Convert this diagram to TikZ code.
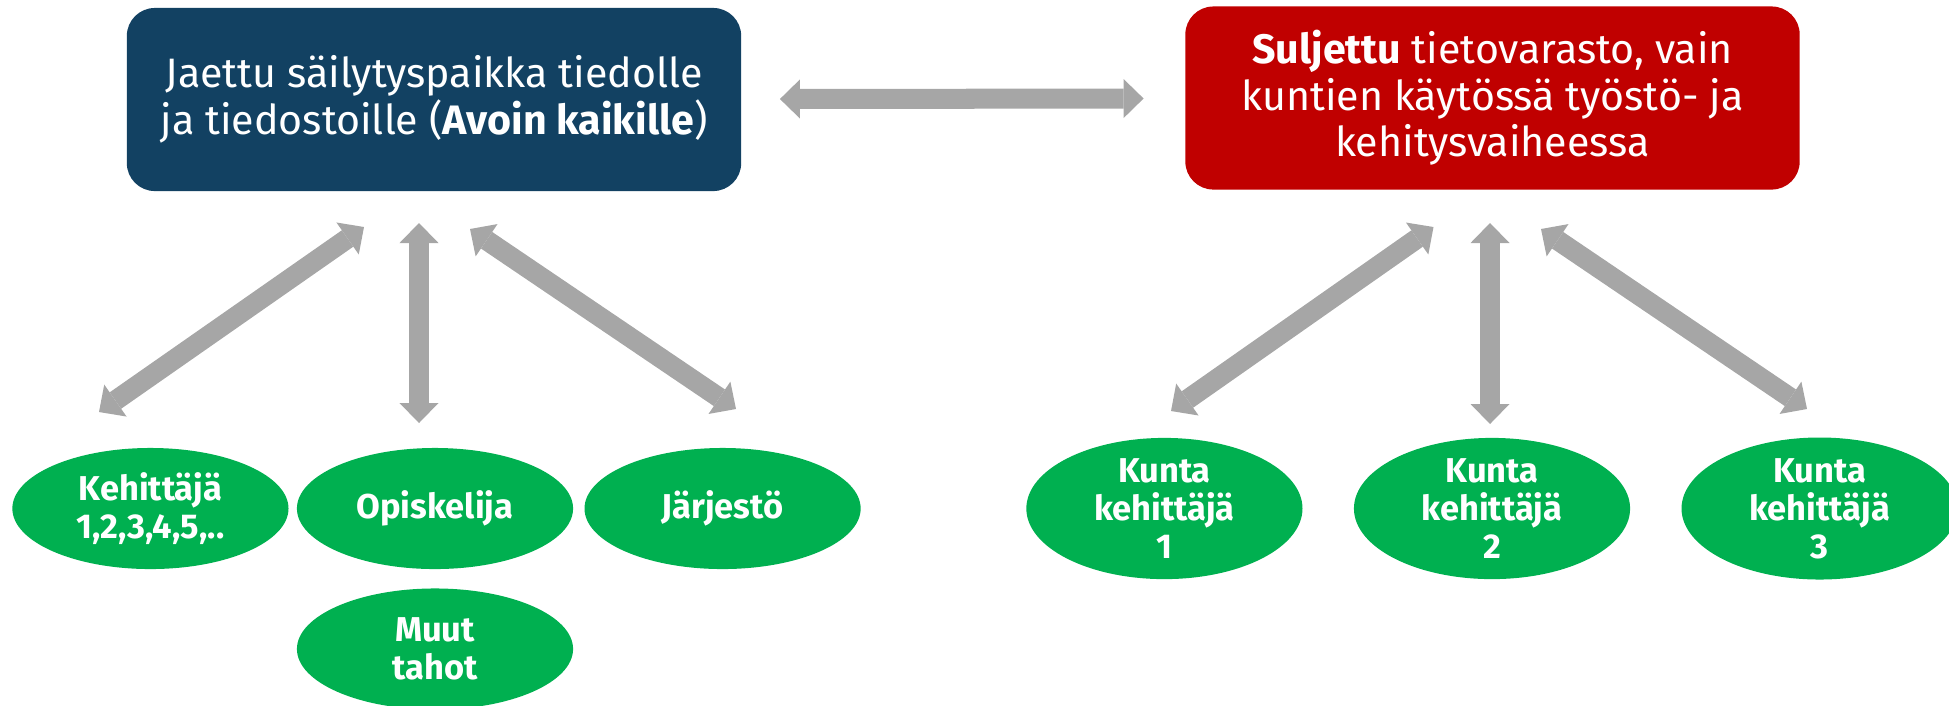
\documentclass[tikz,border=0pt]{standalone}
\usepackage{fontspec}
\setmainfont{Fira Sans}
\usepackage{tikz}
\usetikzlibrary{arrows.meta}
\usetikzlibrary{positioning}
\usetikzlibrary{shapes}

\definecolor{avoinblue}{RGB}{18,65,98}
\definecolor{suljettured}{RGB}{192,0,0}
\definecolor{tahogreen}{RGB}{0,176,80}
\definecolor{linkgray}{RGB}{166,166,166}

\begin{document}
\begin{tikzpicture}[x=0.01cm,y=-0.01cm,
  box node/.style={rectangle,rounded corners=0.28cm,minimum width=6.14cm,minimum height=1.83cm,align=center,text=white,font=\fontsize{11.7}{13.2}\selectfont},
  taho node/.style={ellipse,fill=tahogreen,minimum width=2.76cm,minimum height=1.21cm,inner sep=0pt,align=center,text=white,font=\bfseries\fontsize{9.8}{10.8}\selectfont},
  link/.style={draw=linkgray,line width=0.2cm,{Triangle[width=0.39cm,length=0.2cm,line width=0pt]}-{Triangle[width=0.39cm,length=0.2cm,line width=0pt]}}]

  \useasboundingbox (0,0) rectangle (1949,705);

  \node[box node,fill=avoinblue] (avoin) at (434,99.5) {Jaettu säilytyspaikka tiedolle\\ja tiedostoille (\textbf{Avoin kaikille})};
  \node[box node,fill=suljettured] (suljettu) at (1492.5,98) {\textbf{Suljettu} tietovarasto, vain\\kuntien käytössä työstö- ja\\kehitysvaiheessa};

  \node[taho node] (opiskelija) at (435,508.5) {Opiskelija};
  \node[taho node] (kehittaja) [left=0.07cm of opiskelija] {Kehittäjä\\1,2,3,4,5,..};
  \node[taho node] (jarjesto) [right=0.1cm of opiskelija] {Järjestö};
  \node[taho node] (muut) [below=0.18cm of opiskelija] {Muut\\tahot};

  \node[taho node] (kunta2) at (1492,508.5) {Kunta\\kehittäjä\\2};
  \node[taho node] (kunta1) [left=0.5cm of kunta2] {Kunta\\kehittäjä\\1};
  \node[taho node] (kunta3) [right=0.5cm of kunta2] {Kunta\\kehittäjä\\3};

  % arrow ends
  \coordinate (l1a) at (99,412);   \coordinate (l1b) at (364,227);
  \coordinate (l2a) at (419,423);  \coordinate (l2b) at (419,223);
  \coordinate (l3a) at (736,409);  \coordinate (l3b) at (470,229);
  \coordinate (r1a) at (1171,411); \coordinate (r1b) at (1433.5,227);
  \coordinate (r2a) at (1490,424); \coordinate (r2b) at (1490,223);
  \coordinate (r3a) at (1807,409); \coordinate (r3b) at (1541,229);

  \draw (avoin) edge[link,shorten <=0.38cm,shorten >=0.41cm] (suljettu);
  \draw (l1a) edge[link] (l1b);
  \draw (l2a) edge[link] (l2b);
  \draw (l3a) edge[link] (l3b);
  \draw (r1a) edge[link] (r1b);
  \draw (r2a) edge[link] (r2b);
  \draw (r3a) edge[link] (r3b);

\end{tikzpicture}
\end{document}
